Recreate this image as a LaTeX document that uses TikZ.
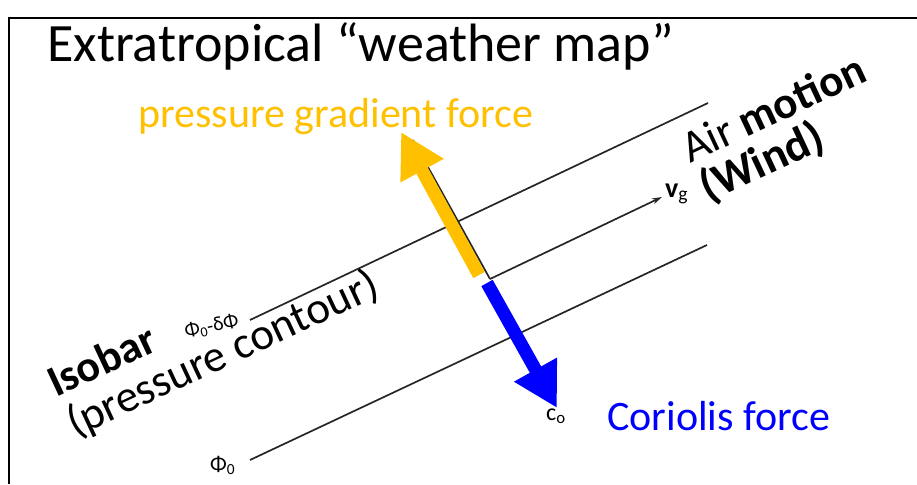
\documentclass[tikz,border=0pt]{standalone}
\usepackage{fontspec}
\setmainfont{Carlito}
\usetikzlibrary{arrows.meta}
\definecolor{pgfcol}{HTML}{FFC000}
\definecolor{corcol}{HTML}{0000FF}
\newcommand{\fsz}[1]{\fontsize{#1}{#1}\selectfont}
\tikzset{
  isobar/.style={line width=1.7pt, black!85},
  lbl/.style={inner sep=0pt, anchor=base west},
  forcearrow/.style={line width=13pt, -{Triangle[length=44pt,width=46pt]}},
}
\begin{document}
\begin{tikzpicture}[x=1pt,y=-1pt]
    \useasboundingbox (0,0) rectangle (917,484);
    % frame and title
    \draw[line width=2pt] (9,484) -- (9,18) -- (917,18);
    \node[lbl] (title) at (47,62) {\fsz{54}Extratropical “weather map”};
    % isobars (pressure contours)
    \coordinate (top-w) at (250,320);
    \coordinate (top-e) at (708,103);
    \coordinate (bot-w) at (250,460);
    \coordinate (bot-e) at (707,245);
    \coordinate (mid-w) at (490,279);
    \coordinate (mid-e) at (662,197);
    \coordinate (guide-n) at (413,140);
    \draw[isobar] (top-w) -- (top-e);
    \draw[isobar] (bot-w) -- (bot-e);
    \draw[isobar, -{Stealth[length=10pt,width=6pt]}] (mid-w) -- (mid-e);
    \draw[isobar] (guide-n) -- (mid-w);
    \node[lbl, rotate=12] (phi-top) at (186,338) {\fsz{20}Φ\textsubscript{0}-δΦ};
    \node[lbl] (phi-bot) at (210,471) {\fsz{22}Φ\textsubscript{0}};
    \node[lbl] (vg) at (665,197) {\fsz{28}\textbf{v}\textsubscript{g}};
    \node[lbl] (co) at (546,420) {\fsz{24}c\textsubscript{o}};
    % forces
    \coordinate (pgf-s) at (479,275);
    \coordinate (pgf-tip) at (401,132);
    \coordinate (cor-s) at (487,283);
    \coordinate (cor-tip) at (557,408);
    \draw[forcearrow, pgfcol] (pgf-s) -- (pgf-tip);
    \draw[forcearrow, corcol] (cor-s) -- (cor-tip);
    \node[lbl, text=pgfcol] (pgf-lbl) at (138,127) {\fsz{42}pressure gradient force};
    \node[lbl, text=corcol] (cor-lbl) at (607,430) {\fsz{42}Coriolis force};
    % rotated labels
    \node[lbl, rotate=25] (isobar-lbl) at (56,398) {\fsz{44}\bfseries Isobar};
    \node[lbl, rotate=25] (contour-lbl) at (75,438) {\fsz{45}(pressure contour)};
    \node[lbl, rotate=25] (air-lbl) at (690,164) {\fsz{45}Air \textbf{motion}};
    \node[lbl, rotate=25] (wind-lbl) at (708,203) {\fsz{46}\bfseries (Wind)};
\end{tikzpicture}
\end{document}
